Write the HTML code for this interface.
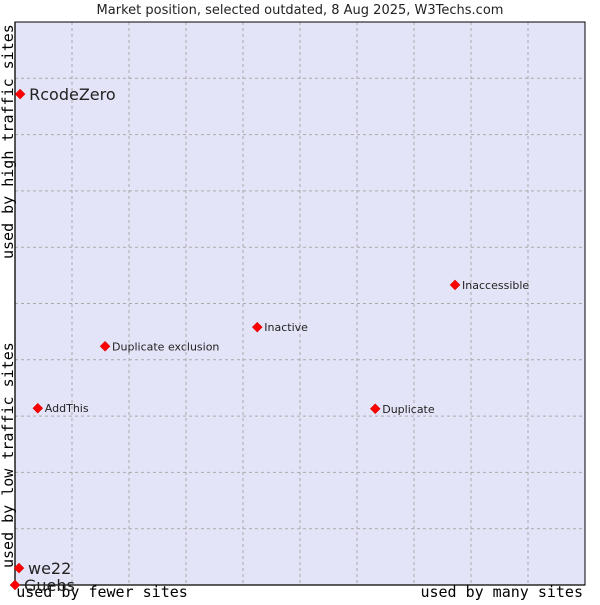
<!DOCTYPE html>
<html><head><meta charset="utf-8"><style>
body{margin:0;background:#fff}
svg text{font-family:"DejaVu Sans","Liberation Sans",sans-serif}
</style></head><body>
<svg width="600" height="600" xmlns="http://www.w3.org/2000/svg">
<text x="300" y="14" text-anchor="middle" font-size="13" fill="#222">Market position, selected outdated, 8 Aug 2025, W3Techs.com</text>
<rect x="15" y="22" width="570" height="563" fill="#e4e4f8"/>
<g id="grid"></g>
<rect x="15" y="22" width="570" height="563" fill="none" stroke="#000" stroke-width="1"/>
<path d="M15 22 V585 H585" fill="none" stroke="#000" stroke-width="1.3"/>
<text x="102" y="597" text-anchor="middle" style="font-family:'DejaVu Sans Mono','Liberation Mono',monospace" font-size="15" fill="#000">used by fewer sites</text>
<text x="583" y="597" text-anchor="end" style="font-family:'DejaVu Sans Mono','Liberation Mono',monospace" font-size="15" fill="#000">used by many sites</text>
<text transform="translate(13,568) rotate(-90)" style="font-family:'DejaVu Sans Mono','Liberation Mono',monospace" font-size="15" fill="#000">used by low traffic sites</text>
<text transform="translate(13,259) rotate(-90)" style="font-family:'DejaVu Sans Mono','Liberation Mono',monospace" font-size="15" fill="#000">used by high traffic sites</text>
<g id="points"></g>
</svg>
<script>
const names=["RcodeZero","we22","Guebs","AddThis","Duplicate exclusion","Inactive","Duplicate","Inaccessible"];
const xVals=[0.9,0.7,0,4.0,15.8,42.5,63.2,77.2];
const yVals=[87.2,3.0,0,31.4,42.4,45.8,31.3,53.3];
const big=[true,true,true,false,false,false,false,false];
const NS="http://www.w3.org/2000/svg";
const X=v=>15+v/100*570, Y=v=>585-v/100*563;
const g=document.getElementById('grid');
for(let i=1;i<10;i++){
 const l=document.createElementNS(NS,'line');
 
 
 const x=15+i*57;
 l.setAttribute('x1',x);l.setAttribute('x2',x);l.setAttribute('y1',22);l.setAttribute('y2',585);
 l.setAttribute('stroke','#aaa');l.setAttribute('stroke-dasharray','3,3');g.appendChild(l);
 const h=document.createElementNS(NS,'line');
 
 
 const y=585-i*56.3;
 h.setAttribute('x1',15);h.setAttribute('x2',585);h.setAttribute('y1',y);h.setAttribute('y2',y);
 h.setAttribute('stroke','#aaa');h.setAttribute('stroke-dasharray','3,3');g.appendChild(h);
}
const p=document.getElementById('points');
names.forEach((n,i)=>{
 const cx=X(xVals[i]),cy=Y(yVals[i]);
 const d=document.createElementNS(NS,'path');
 
 
 d.setAttribute('d',`M${cx} ${cy-5}L${cx+5} ${cy}L${cx} ${cy+5}L${cx-5} ${cy}Z`);
 d.setAttribute('fill','#f00');d.setAttribute('stroke','#c00');d.setAttribute('stroke-width','0.5');
 p.appendChild(d);
 const t=document.createElementNS(NS,'text');
 
 
 t.setAttribute('x',cx+(big[i]?9:7));t.setAttribute('y',cy+(big[i]?6:4));
 t.setAttribute('font-size',big[i]?16:11);t.setAttribute('fill','#222');
 t.textContent=n;p.appendChild(t);
});
</script>
</body></html>
